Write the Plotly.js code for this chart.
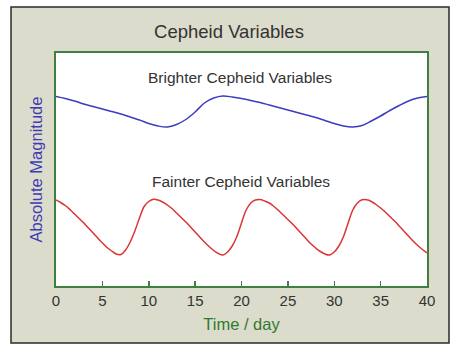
<!DOCTYPE html>
<html>
<head>
<meta charset="utf-8">
<script src="https://cdn.plot.ly/plotly-3.0.1.min.js"></script>
<style>html,body{margin:0;padding:0;background:#fff;}#chart{width:455px;height:352px;}</style>
</head>
<body>
<div id="chart"></div>
<script>
// Time in days
const brightDays = [0,1,2,3,4,5,6,7,8,9,10,11,12,13,14,15,16,17,18,19,20,21,22,23,24,25,26,27,28,29,30,31,32,33,34,35,36,37,38,39,40];
// Absolute magnitude (relative units, more negative = brighter)
const brightMag = [-2.035,-2.015,-1.99,-1.96,-1.935,-1.91,-1.885,-1.86,-1.83,-1.80,-1.765,-1.74,-1.73,-1.755,-1.805,-1.88,-1.97,-2.02,-2.04,-2.03,-2.015,-1.995,-1.975,-1.95,-1.925,-1.90,-1.875,-1.85,-1.825,-1.795,-1.765,-1.74,-1.73,-1.745,-1.79,-1.84,-1.895,-1.945,-1.99,-2.02,-2.035];

const faintDays = [0,0.5,1,1.5,2,2.5,3,3.5,4,4.5,5,5.5,6,6.5,7,7.5,8,8.5,9,9.5,10,10.5,11,11.5,12,12.5,13,13.5,14,14.5,15,15.5,16,16.5,17,17.5,18,18.5,19,19.5,20,20.5,21,21.5,22,22.5,23,23.5,24,24.5,25,25.5,26,26.5,27,27.5,28,28.5,29,29.5,30,30.5,31,31.5,32,32.5,33,33.5,34,34.5,35,35.5,36,36.5,37,37.5,38,38.5,39,39.5,40];
const faintMag = [-1.00,-0.975,-0.945,-0.905,-0.86,-0.815,-0.77,-0.72,-0.67,-0.62,-0.57,-0.525,-0.49,-0.46,-0.455,-0.50,-0.58,-0.69,-0.82,-0.935,-0.985,-1.007,-1.00,-0.98,-0.95,-0.915,-0.87,-0.825,-0.78,-0.73,-0.68,-0.63,-0.58,-0.535,-0.495,-0.465,-0.45,-0.48,-0.54,-0.635,-0.77,-0.90,-0.97,-1.00,-1.005,-0.99,-0.97,-0.935,-0.895,-0.85,-0.805,-0.76,-0.71,-0.66,-0.61,-0.56,-0.52,-0.485,-0.46,-0.45,-0.48,-0.54,-0.635,-0.77,-0.90,-0.97,-1.002,-1.002,-0.985,-0.955,-0.92,-0.88,-0.835,-0.79,-0.74,-0.69,-0.64,-0.59,-0.545,-0.505,-0.47];

const xTicks = [0,5,10,15,20,25,30,35,40];
const labels = {
  title: 'Cepheid Variables',
  bright: 'Brighter Cepheid Variables',
  faint: 'Fainter Cepheid Variables',
  xTitle: 'Time / day',
  yTitle: 'Absolute Magnitude'
};

const green = '#3f7f3f';
const FONT = 'Liberation Sans, Arial, sans-serif';

const traces = [
  {x: brightDays, y: brightMag, mode: 'lines', line: {color: '#3c3cc0', width: 1.5, shape: 'spline'}, hoverinfo: 'skip', showlegend: false},
  {x: faintDays, y: faintMag, mode: 'lines', line: {color: '#dd3333', width: 1.5, shape: 'spline'}, hoverinfo: 'skip', showlegend: false}
];

const layout = {
  width: 455, height: 352,
  margin: {l: 56, r: 28, t: 53, b: 66, autoexpand: false},
  paper_bgcolor: '#ffffff',
  plot_bgcolor: '#ffffff',
  font: {family: FONT, color: '#333333', size: 15},
  title: {text: labels.title, font: {family: FONT, size: 18.5, color: '#333333'}, x: (229-0)/455, xanchor: 'center', y: 1 - 32/352, yanchor: 'middle'},
  xaxis: {
    range: [0, 40], tickvals: xTicks, ticktext: xTicks.map(String),
    ticks: 'inside', ticklen: 5, tickwidth: 1.5, tickcolor: green,
    showline: true, linecolor: green, linewidth: 2, mirror: true,
    showgrid: false, zeroline: false,
    tickfont: {family: FONT, size: 15, color: '#333333'},
    title: {text: labels.xTitle, font: {family: FONT, size: 16.5, color: '#2f7a2f'}, standoff: 10}
  },
  yaxis: {
    range: [-0.14, -2.47],
    showticklabels: false, ticks: '',
    showline: true, linecolor: green, linewidth: 2, mirror: true,
    showgrid: false, zeroline: false,
    title: {text: labels.yTitle, font: {family: FONT, size: 16.5, color: '#3c3cb4'}, standoff: 7}
  },
  shapes: [
    {type: 'rect', xref: 'paper', yref: 'paper', layer: 'below',
     x0: (11-56)/371, x1: (449-56)/371, y0: (286-343)/233, y1: (286-7)/233,
     fillcolor: '#dcdccc', line: {color: '#2a2a2a', width: 1.5}},
    {type: 'rect', xref: 'paper', yref: 'paper', layer: 'below',
     x0: 0, x1: 1, y0: 0, y1: 1, fillcolor: '#ffffff', line: {width: 0}}
  ],
  annotations: [
    {text: labels.bright, xref: 'paper', yref: 'paper', x: (240-56)/371, y: (286-77)/233, showarrow: false, xanchor: 'center', yanchor: 'middle', font: {family: FONT, size: 15.5, color: '#333333'}},
    {text: labels.faint, xref: 'paper', yref: 'paper', x: (241-56)/371, y: (286-181)/233, showarrow: false, xanchor: 'center', yanchor: 'middle', font: {family: FONT, size: 15.5, color: '#333333'}}
  ]
};

Plotly.newPlot('chart', traces, layout, {displayModeBar: false, staticPlot: true});
</script>
</body>
</html>
